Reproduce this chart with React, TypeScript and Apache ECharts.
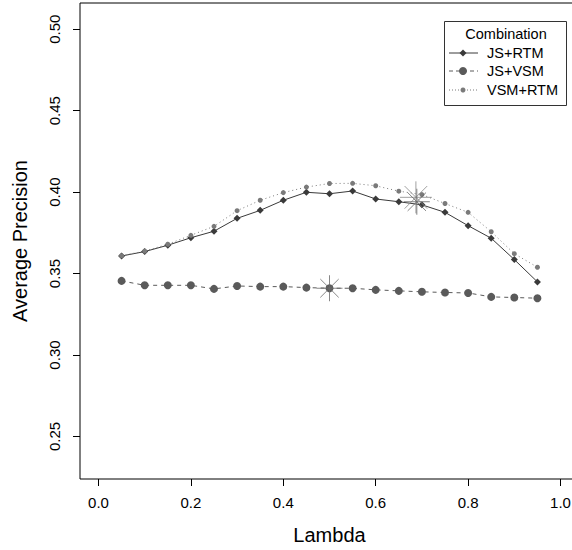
import React, { useEffect, useRef } from "react";
import * as echarts from "echarts";

const lambdas = [0.05, 0.1, 0.15, 0.2, 0.25, 0.3, 0.35, 0.4, 0.45, 0.5, 0.55, 0.6, 0.65, 0.7, 0.75, 0.8, 0.85, 0.9, 0.95];
const jsRtm = [0.3608, 0.3635, 0.3674, 0.372, 0.376, 0.3839, 0.3888, 0.395, 0.3999, 0.399, 0.4007, 0.3958, 0.3941, 0.3922, 0.3876, 0.3794, 0.3717, 0.3586, 0.3449];
const jsVsm = [0.3455, 0.3428, 0.3428, 0.3428, 0.3406, 0.3424, 0.342, 0.342, 0.3414, 0.341, 0.341, 0.34, 0.3394, 0.3388, 0.3384, 0.3381, 0.3357, 0.3353, 0.3349];
const vsmRtm = [0.361, 0.3638, 0.368, 0.3735, 0.379, 0.3886, 0.395, 0.3997, 0.4031, 0.4053, 0.4054, 0.4039, 0.4006, 0.3985, 0.393, 0.3876, 0.3757, 0.3622, 0.3539];
const starJsVsm = [[0.5, 0.341]];
const starVsmRtm = [[0.687, 0.3968]];
const starJsRtm = [[0.689, 0.3941]];
const xTicks = [0, 0.2, 0.4, 0.6, 0.8, 1.0];
const yTicks = [0.25, 0.3, 0.35, 0.4, 0.45, 0.5];
const legendNames = ["JS+RTM", "JS+VSM", "VSM+RTM"];

const FONT = "'Liberation Sans', Arial, Helvetica, sans-serif";
const STAR = "path://M10 0L10 20M0 10L20 10M2.93 2.93L17.07 17.07M17.07 2.93L2.93 17.07";

export default function App() {
  const ref = useRef<HTMLDivElement>(null);
  useEffect(() => {
    if (!ref.current) return;
    const chart = echarts.init(ref.current, null, { renderer: "svg" });
    const pairs = (ys: number[]) => lambdas.map((x, i) => [x, ys[i]]);
    const legendY = [53, 71, 90];
    const legendColors = ["#3a3a3a", "#5a5a5a", "#7a7a7a"];
    const legendDash: any[] = ["solid", [4, 3], [1, 2]];
    const graphics: any[] = [
      { type: "rect", shape: { x: 444.5, y: 21.5, width: 122, height: 84 }, style: { fill: "#fff", stroke: "#333", lineWidth: 1 }, z: 100 },
      { type: "text", x: 506, y: 34, style: { text: "Combination", font: `14.5px ${FONT}`, fill: "#000", align: "center", verticalAlign: "middle" }, z: 101 },
    ];
    legendNames.forEach((n, i) => {
      const y = legendY[i];
      graphics.push({ type: "line", shape: { x1: 449, y1: y, x2: 478, y2: y }, style: { stroke: legendColors[i], lineWidth: 1, lineDash: legendDash[i] }, z: 101 });
      if (i === 0) {
        graphics.push({ type: "polygon", shape: { points: [[463, y - 3.5], [466.5, y], [463, y + 3.5], [459.5, y]] }, style: { fill: legendColors[i] }, z: 102 });
      } else {
        graphics.push({ type: "circle", shape: { cx: 463, cy: y, r: i === 1 ? 4 : 2.5 }, style: { fill: legendColors[i] }, z: 102 });
      }
      graphics.push({ type: "text", x: 487, y, style: { text: n, font: `14.5px ${FONT}`, fill: "#000", verticalAlign: "middle" }, z: 101 });
    });

    chart.setOption({
      animation: false,
      backgroundColor: "#fff",
      textStyle: { fontFamily: FONT },
      grid: { left: 80, top: 3, width: 499, height: 476, show: true, borderColor: "#000", borderWidth: 1, backgroundColor: "transparent" },
      xAxis: {
        type: "value", min: -0.04, max: 1.04,
        name: "Lambda", nameLocation: "middle", nameGap: 46,
        nameTextStyle: { fontSize: 20, color: "#000", fontFamily: FONT },
        axisLine: { show: false, onZero: false },
        axisTick: { show: true, length: 7, lineStyle: { color: "#000" }, customValues: xTicks },
        axisLabel: { customValues: xTicks, formatter: (v: number) => v.toFixed(1), fontSize: 15, color: "#000", margin: 16, fontFamily: FONT },
        splitLine: { show: false },
      },
      yAxis: {
        type: "value", min: 0.2239, max: 0.5161,
        name: "Average Precision", nameLocation: "middle", nameGap: 50,
        nameTextStyle: { fontSize: 20, color: "#000", fontFamily: FONT },
        axisLine: { show: false, onZero: false },
        axisTick: { show: true, length: 7, lineStyle: { color: "#000" }, customValues: yTicks },
        axisLabel: { customValues: yTicks, formatter: (v: number) => v.toFixed(2), fontSize: 15, color: "#000", margin: 18, rotate: 90, fontFamily: FONT },
        splitLine: { show: false },
      },
      series: [
        { name: "JS+RTM", type: "line", data: pairs(jsRtm), symbol: "diamond", symbolSize: 7, itemStyle: { color: "#3a3a3a" }, lineStyle: { color: "#3a3a3a", width: 1 } },
        { name: "JS+VSM", type: "line", data: pairs(jsVsm), symbol: "circle", symbolSize: 8, itemStyle: { color: "#5a5a5a" }, lineStyle: { color: "#5a5a5a", width: 1, type: [4, 4] } },
        { name: "VSM+RTM", type: "line", data: pairs(vsmRtm), symbol: "circle", symbolSize: 5, itemStyle: { color: "#7a7a7a" }, lineStyle: { color: "#7a7a7a", width: 1, type: [1, 3] } },
        { type: "scatter", data: starJsVsm, symbol: STAR, symbolSize: 26, itemStyle: { color: "none", borderColor: "#6a6a6a", borderWidth: 1 }, z: 5 },
        { type: "scatter", data: starVsmRtm, symbol: STAR, symbolSize: 32, itemStyle: { color: "none", borderColor: "#8a8a8a", borderWidth: 1 }, z: 5 },
        { type: "scatter", data: starJsRtm, symbol: STAR, symbolSize: 26, itemStyle: { color: "none", borderColor: "#666", borderWidth: 1 }, z: 5 },
      ],
      graphic: graphics,
    });
    return () => chart.dispose();
  }, []);
  return <div ref={ref} style={{ position: "fixed", left: 0, top: 0, width: 582, height: 550 }} />;
}
